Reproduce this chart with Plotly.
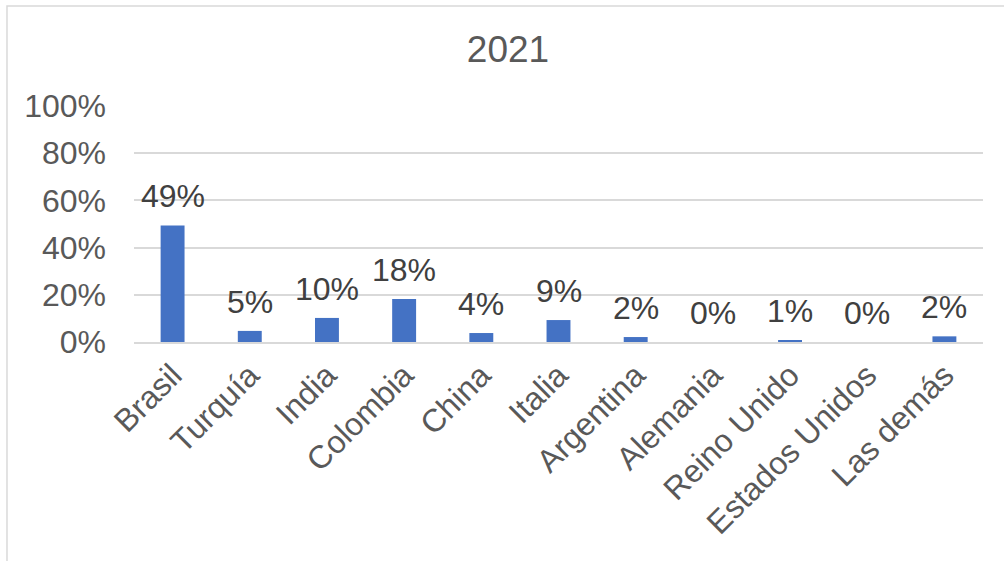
import plotly.graph_objects as go

# Share of total by country, 2021
paises = ["Brasil", "Turquía", "India", "Colombia", "China", "Italia",
          "Argentina", "Alemania", "Reino Unido", "Estados Unidos", "Las demás"]
participacion = [0.494, 0.047, 0.102, 0.182, 0.038, 0.093,
                 0.021, 0.0, 0.008, 0.0, 0.024]
ticks_y = [0, 0.2, 0.4, 0.6, 0.8, 1.0]

FONT = "Liberation Sans, Arial, sans-serif"
GRIS_TEXTO = "#595959"
GRIS_LINEA = "#D9D9D9"

fig = go.Figure(go.Bar(
    x=paises,
    y=participacion,
    marker=dict(color="#4472C4", line=dict(width=0)),
    hoverinfo="x+y",
))

# Value labels sitting above each bar
for p, v in zip(paises, participacion):
    fig.add_annotation(
        x=p, y=v, text=f"{v:.0%}", showarrow=False,
        yanchor="bottom", yshift=9,
        font=dict(family=FONT, size=32, color="#404040"),
    )

# Light frame around the chart area
fig.add_shape(type="rect", xref="paper", yref="paper",
              x0=-0.1496, x1=1.04, y0=-1.0, y1=1.4237,
              line=dict(color=GRIS_LINEA, width=1.5), fillcolor="rgba(0,0,0,0)",
              layer="below")

fig.update_layout(
    width=1004, height=561,
    margin=dict(l=134, r=21, t=106, b=219, pad=0),
    paper_bgcolor="white", plot_bgcolor="white",
    showlegend=False,
    bargap=0.69,
    title=dict(text="2021", x=0.506, xref="container", xanchor="center",
               y=1 - 49 / 561, yref="container", yanchor="middle",
               font=dict(family=FONT, size=37, color=GRIS_TEXTO)),
    font=dict(family=FONT, color=GRIS_TEXTO),
)

fig.update_yaxes(
    range=[0, 1], tickvals=ticks_y, tickformat=".0%",
    showgrid=True, gridcolor=GRIS_LINEA, gridwidth=1.5,
    zeroline=False, showline=False, ticks="",
    ticklabelstandoff=27,
    tickfont=dict(family=FONT, size=32, color=GRIS_TEXTO),
)
fig.update_xaxes(
    tickangle=-45, showgrid=False, zeroline=False,
    showline=True, linecolor=GRIS_LINEA, linewidth=1.5, ticks="",
    tickfont=dict(family=FONT, size=32, color=GRIS_TEXTO),
)

fig.write_html("out.html")
